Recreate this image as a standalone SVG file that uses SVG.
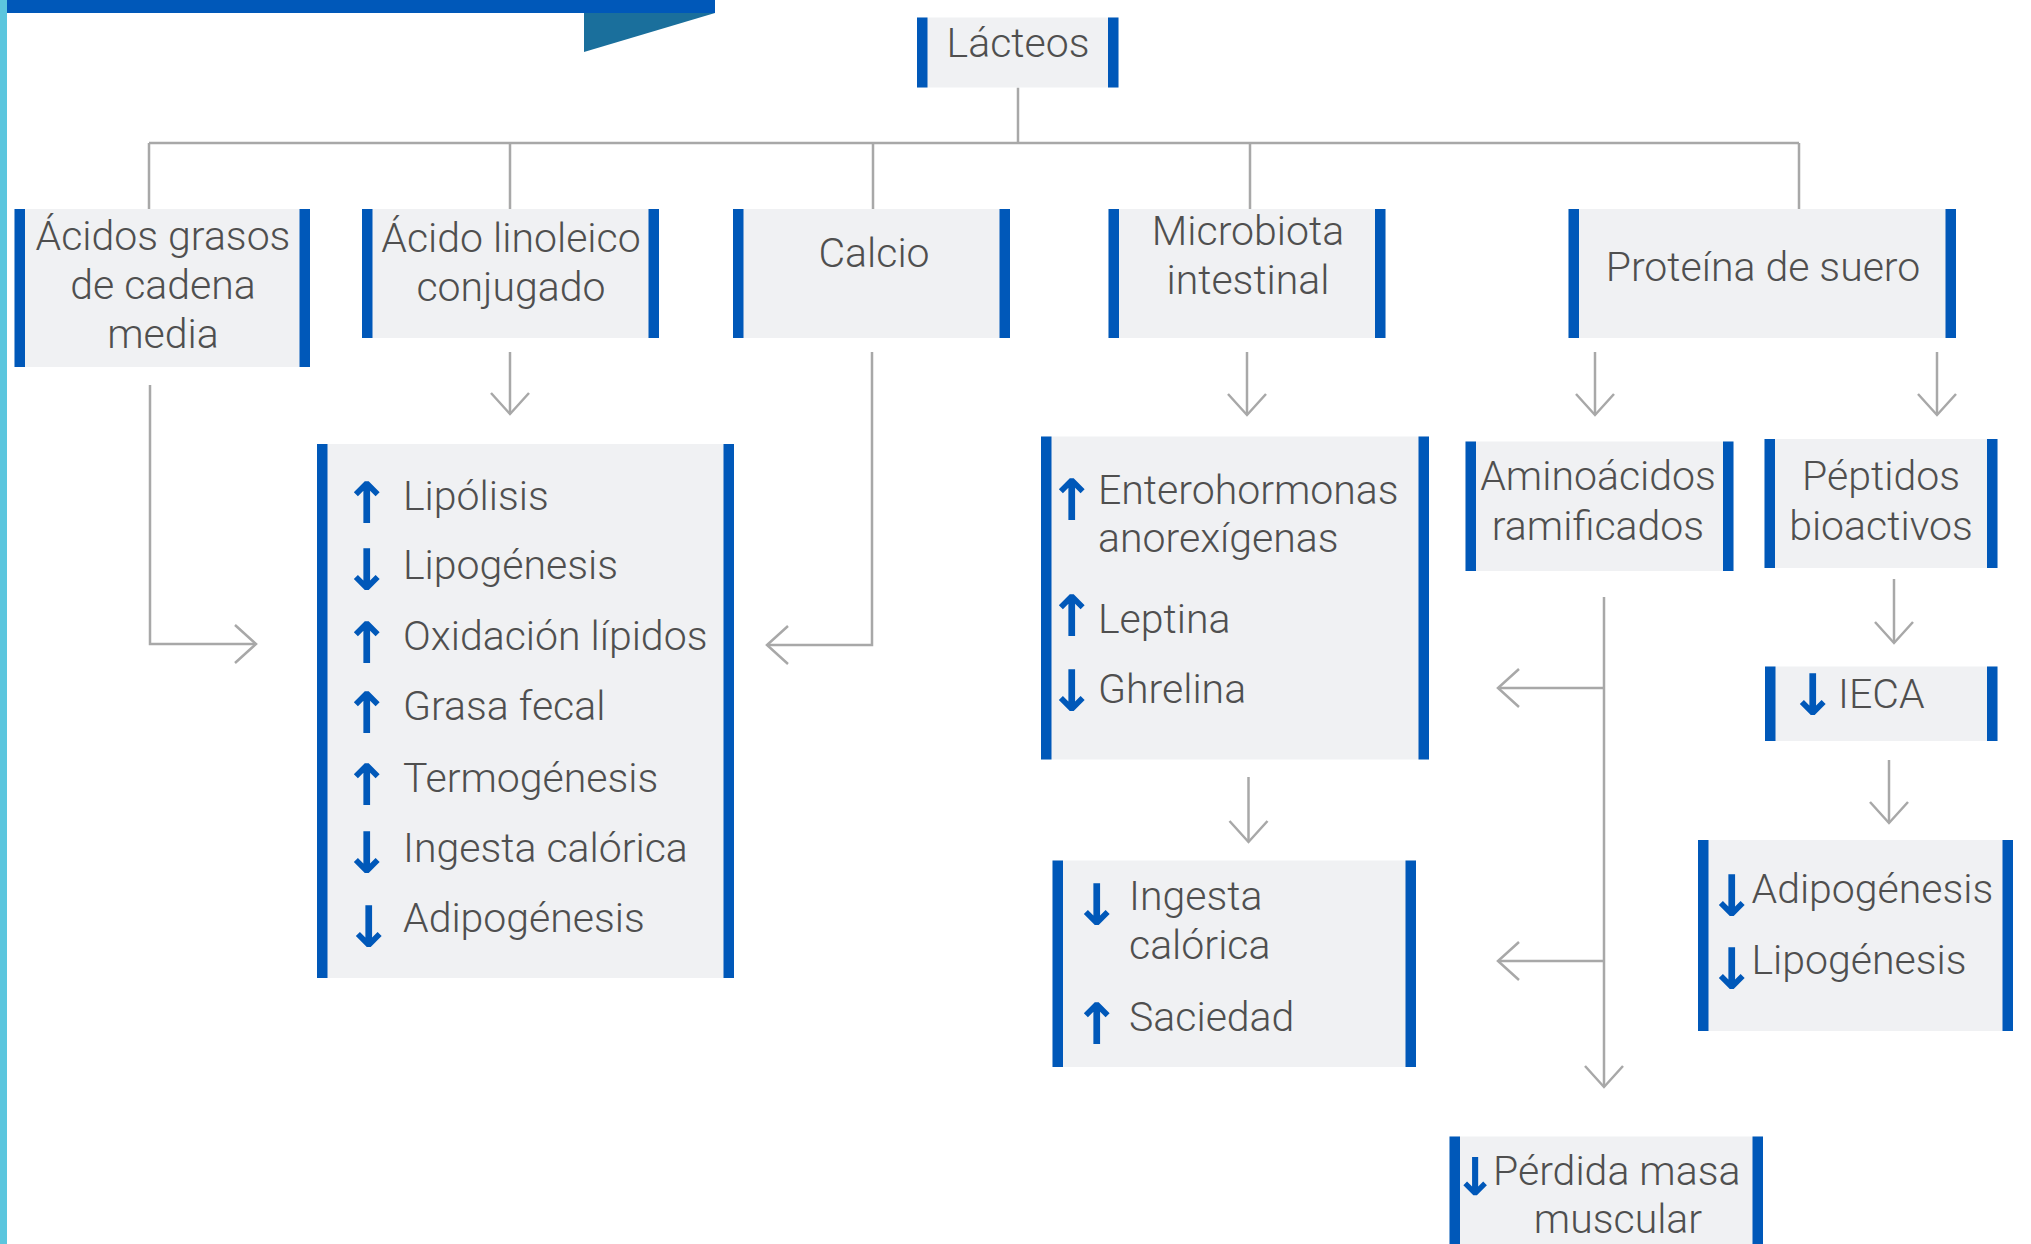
<svg xmlns="http://www.w3.org/2000/svg" width="2031" height="1244" viewBox="0 0 2031 1244">
<defs>
<style>
.box{fill:#f0f1f3}
.bar{fill:#0058b9}
.t{font-family:Roboto,"Liberation Sans",sans-serif;font-weight:300;font-size:41px;fill:#4f4f4f}
.c{text-anchor:middle}
.ar{font-family:Roboto,"DejaVu Sans",sans-serif;font-weight:700;font-size:57px;fill:#0058b9;text-anchor:middle}
.ln{fill:none;stroke:#a8a8a8;stroke-width:2.5}
</style>
<marker id="chev" markerUnits="userSpaceOnUse" viewBox="-24 -22 26 44" markerWidth="26" markerHeight="44" refX="0" refY="0" orient="auto" overflow="visible">
<path d="M-21,-19 L0,0 L-21,19" fill="none" stroke="#a8a8a8" stroke-width="2.5"/>
</marker>
</defs>
<rect width="2031" height="1244" fill="#ffffff"/>
<g id="decor">
<rect x="0" y="0" width="7" height="1244" fill="#5bc6de"/>
<rect x="7" y="0" width="708" height="13" fill="#0058b9"/>
<polygon points="584,13 715,13 584,52" fill="#1a6f9c"/>
</g>
<g id="connectors" class="ln">
<path d="M1018,87.5 V143"/>
<path d="M149,143 H1799"/>
<path d="M149,143 V209 M510,143 V209 M873,143 V209 M1250,143 V209 M1799,143 V209"/>
<path d="M150,385 V644 H256" marker-end="url(#chev)"/>
<path d="M510,352 V414" marker-end="url(#chev)"/>
<path d="M872,352 V645 H767" marker-end="url(#chev)"/>
<path d="M1247,352 V415" marker-end="url(#chev)"/>
<path d="M1595,352 V415" marker-end="url(#chev)"/>
<path d="M1937,352 V415" marker-end="url(#chev)"/>
<path d="M1248.5,777 V842" marker-end="url(#chev)"/>
<path d="M1604,597 V1087" marker-end="url(#chev)"/>
<path d="M1604,688 H1498" marker-end="url(#chev)"/>
<path d="M1604,961 H1498" marker-end="url(#chev)"/>
<path d="M1894,579 V643" marker-end="url(#chev)"/>
<path d="M1889,760 V823" marker-end="url(#chev)"/>
</g>
<g id="lacteos">
<rect class="box" x="917" y="17.5" width="201.5" height="70"/>
<rect class="bar" x="917" y="17.5" width="10.5" height="70"/>
<rect class="bar" x="1108" y="17.5" width="10.5" height="70"/>
<text class="t c" x="1018" y="57">Lácteos</text>
</g>
<g id="acidos-grasos">
<rect class="box" x="14.5" y="209" width="295.5" height="158"/>
<rect class="bar" x="14.5" y="209" width="10.5" height="158"/>
<rect class="bar" x="299.5" y="209" width="10.5" height="158"/>
<text class="t c" x="163" y="250">Ácidos grasos</text>
<text class="t c" x="163" y="299">de cadena</text>
<text class="t c" x="163" y="348">media</text>
</g>
<g id="acido-linoleico">
<rect class="box" x="362" y="209" width="297" height="129"/>
<rect class="bar" x="362" y="209" width="10.5" height="129"/>
<rect class="bar" x="648.5" y="209" width="10.5" height="129"/>
<text class="t c" x="511" y="252">Ácido linoleico</text>
<text class="t c" x="511" y="301">conjugado</text>
</g>
<g id="calcio">
<rect class="box" x="733" y="209" width="277" height="129"/>
<rect class="bar" x="733" y="209" width="10.5" height="129"/>
<rect class="bar" x="999.5" y="209" width="10.5" height="129"/>
<text class="t c" x="874" y="267">Calcio</text>
</g>
<g id="microbiota">
<rect class="box" x="1108.5" y="209" width="277" height="129"/>
<rect class="bar" x="1108.5" y="209" width="10.5" height="129"/>
<rect class="bar" x="1375" y="209" width="10.5" height="129"/>
<text class="t c" x="1248" y="245">Microbiota</text>
<text class="t c" x="1248" y="294">intestinal</text>
</g>
<g id="proteina-suero">
<rect class="box" x="1568.5" y="209" width="387.5" height="129"/>
<rect class="bar" x="1568.5" y="209" width="10.5" height="129"/>
<rect class="bar" x="1945.5" y="209" width="10.5" height="129"/>
<text class="t c" x="1763" y="281">Proteína de suero</text>
</g>
<g id="efectos-lipidos">
<rect class="box" x="317" y="444" width="417" height="534"/>
<rect class="bar" x="317" y="444" width="10.5" height="534"/>
<rect class="bar" x="723.5" y="444" width="10.5" height="534"/>
<text class="ar" x="367" y="523">↑</text>
<text class="ar" x="367" y="590">↓</text>
<text class="ar" x="367" y="663">↑</text>
<text class="ar" x="367" y="733">↑</text>
<text class="ar" x="367" y="805">↑</text>
<text class="ar" x="367" y="873">↓</text>
<text class="ar" x="369" y="947">↓</text>
<text class="t" x="403" y="510">Lipólisis</text>
<text class="t" x="403" y="579">Lipogénesis</text>
<text class="t" x="403" y="650">Oxidación lípidos</text>
<text class="t" x="403" y="720">Grasa fecal</text>
<text class="t" x="403" y="792">Termogénesis</text>
<text class="t" x="403" y="862">Ingesta calórica</text>
<text class="t" x="403" y="932">Adipogénesis</text>
</g>
<g id="enterohormonas">
<rect class="box" x="1041" y="436.5" width="388" height="323"/>
<rect class="bar" x="1041" y="436.5" width="10.5" height="323"/>
<rect class="bar" x="1418.5" y="436.5" width="10.5" height="323"/>
<text class="ar" x="1072" y="520">↑</text>
<text class="ar" x="1072" y="636">↑</text>
<text class="ar" x="1072" y="711">↓</text>
<text class="t" x="1098" y="504">Enterohormonas</text>
<text class="t" x="1098" y="552">anorexígenas</text>
<text class="t" x="1098" y="633">Leptina</text>
<text class="t" x="1098" y="703">Ghrelina</text>
</g>
<g id="ingesta-saciedad">
<rect class="box" x="1052.5" y="860.5" width="363.5" height="206.5"/>
<rect class="bar" x="1052.5" y="860.5" width="10.5" height="206.5"/>
<rect class="bar" x="1405.5" y="860.5" width="10.5" height="206.5"/>
<text class="ar" x="1097" y="925">↓</text>
<text class="ar" x="1097" y="1044">↑</text>
<text class="t" x="1129" y="910">Ingesta</text>
<text class="t" x="1129" y="959">calórica</text>
<text class="t" x="1129" y="1031">Saciedad</text>
</g>
<g id="aminoacidos">
<rect class="box" x="1465.5" y="441.5" width="268" height="129.5"/>
<rect class="bar" x="1465.5" y="441.5" width="10.5" height="129.5"/>
<rect class="bar" x="1723" y="441.5" width="10.5" height="129.5"/>
<text class="t c" x="1598" y="490">Aminoácidos</text>
<text class="t c" x="1598" y="540">ramificados</text>
</g>
<g id="peptidos">
<rect class="box" x="1764.5" y="439" width="233" height="129"/>
<rect class="bar" x="1764.5" y="439" width="10.5" height="129"/>
<rect class="bar" x="1987" y="439" width="10.5" height="129"/>
<text class="t c" x="1881" y="490">Péptidos</text>
<text class="t c" x="1881" y="540">bioactivos</text>
</g>
<g id="ieca">
<rect class="box" x="1765" y="666.5" width="232.5" height="74.5"/>
<rect class="bar" x="1765" y="666.5" width="10.5" height="74.5"/>
<rect class="bar" x="1987" y="666.5" width="10.5" height="74.5"/>
<text class="ar" x="1813" y="715">↓</text>
<text class="t" x="1838" y="708">IECA</text>
</g>
<g id="adipo-lipo">
<rect class="box" x="1698" y="840" width="315" height="191"/>
<rect class="bar" x="1698" y="840" width="10.5" height="191"/>
<rect class="bar" x="2002.5" y="840" width="10.5" height="191"/>
<text class="ar" x="1732" y="916">↓</text>
<text class="ar" x="1732" y="989">↓</text>
<text class="t" x="1751.5" y="903">Adipogénesis</text>
<text class="t" x="1751.5" y="974">Lipogénesis</text>
</g>
<g id="perdida-masa">
<rect class="box" x="1449.5" y="1136.5" width="313.5" height="108"/>
<rect class="bar" x="1449.5" y="1136.5" width="10.5" height="108"/>
<rect class="bar" x="1752.5" y="1136.5" width="10.5" height="108"/>
<text class="ar" x="1475" y="1195" style="font-size:52px">↓</text>
<text class="t" x="1493" y="1185">Pérdida masa</text>
<text class="t c" x="1618" y="1233">muscular</text>
</g>
</svg>
